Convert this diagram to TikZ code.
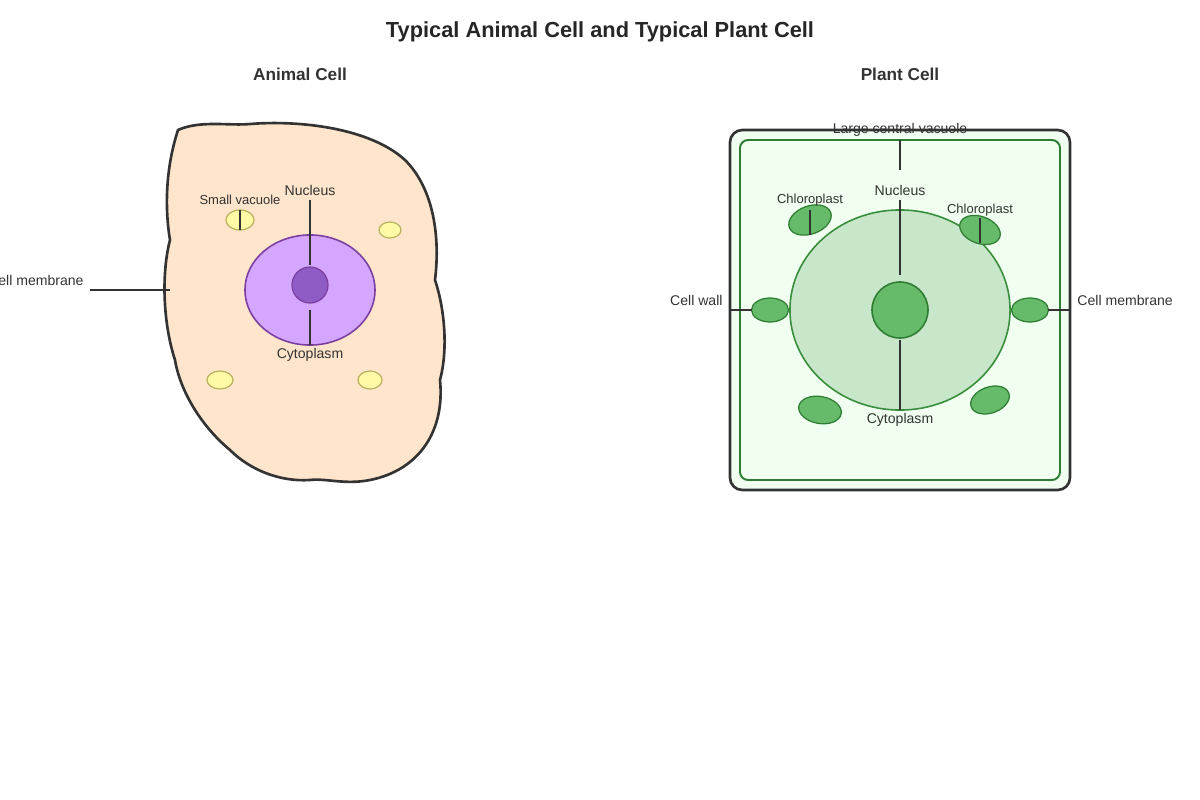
\documentclass[tikz,border=0pt]{standalone}
\usepackage{fontspec}
\usetikzlibrary{shapes.geometric}
\setmainfont{Liberation Sans}
\begin{document}
\begin{tikzpicture}[x=0.01cm,y=-0.01cm,
  lbl/.style={font=\fontsize{4pt}{5pt}\selectfont,text=black!80,inner sep=0.5pt},
  slbl/.style={font=\fontsize{3.7pt}{4.5pt}\selectfont,text=black!80,inner sep=0.5pt},
  ttl/.style={font=\bfseries\fontsize{4.9pt}{6pt}\selectfont,text=black!80},
  lead/.style={draw=black!80,line width=0.35pt},
  vac/.style={fill=yellow!35,draw=yellow!60!black!80,line width=0.35pt,inner sep=0pt,outer sep=0pt},
  chl/.style={fill=chlf,draw=chld,line width=0.35pt,inner sep=0pt,outer sep=0pt}]
\definecolor{chlf}{HTML}{66BB6A}\definecolor{chld}{HTML}{2E7D32}
\definecolor{cyto}{HTML}{FFE5CC}\definecolor{nuc}{HTML}{D5A6FF}\definecolor{nucd}{HTML}{7B3FA0}
\definecolor{nol}{HTML}{8E5CC4}\definecolor{vacl}{HTML}{C8E6C9}\definecolor{vacd}{HTML}{388E3C}
\definecolor{wall}{HTML}{F0FFF0}
\useasboundingbox (0,0) rectangle (1200,800);
\node[font=\bfseries\fontsize{6.2pt}{7pt}\selectfont,text=black!85] (title) at (600,32) {Typical Animal Cell and Typical Plant Cell};
\node[ttl] (at) at (300,74) {Animal Cell};
\node[ttl] (pt) at (900,74) {Plant Cell};
% animal
\draw[fill=cyto,draw=black!80,line width=0.75pt] (178,130) .. controls (200,120) and (230,126) .. (250,124)
 .. controls (300,120) and (370,128) .. (405,160) .. controls (435,190) and (440,240) .. (435,280)
 .. controls (445,310) and (448,350) .. (440,380) .. controls (445,430) and (420,470) .. (370,480)
 .. controls (345,485) and (325,478) .. (310,480) .. controls (280,482) and (250,470) .. (230,450)
 .. controls (200,425) and (180,390) .. (175,360) .. controls (162,320) and (162,270) .. (170,240)
 .. controls (165,210) and (165,170) .. (178,130) -- cycle;
\node[draw=nucd,fill=nuc,ellipse,inner sep=0pt,minimum width=1.3cm,minimum height=1.1cm,line width=0.45pt] (an) at (310,290) {};
\node[draw=nucd,fill=nol,circle,inner sep=0pt,minimum size=0.36cm,line width=0.35pt] (anl) at (310,285) {};
\node[vac,ellipse,minimum width=0.28cm,minimum height=0.2cm] (v1) at (240,220) {};
\node[vac,ellipse,minimum width=0.22cm,minimum height=0.16cm] (v2) at (390,230) {};
\node[vac,ellipse,minimum width=0.26cm,minimum height=0.18cm] (v3) at (220,380) {};
\node[vac,ellipse,minimum width=0.24cm,minimum height=0.18cm] (v4) at (370,380) {};
\node[lbl] (anlab) at (310,190) {Nucleus};
\node[lbl] (aclab) at (310,355) {Cytoplasm};
\node[slbl] (svlab) at (240,200) {Small vacuole};
\node[lbl,anchor=east] (cmlab) at (86,280) {Cell membrane};
\coordinate (a1) at (310,200); \coordinate (a2) at (310,265);
\coordinate (a3) at (310,310); \coordinate (a4) at (310,345);
\coordinate (a5) at (240,210); \coordinate (a6) at (240,230);
\coordinate (a7) at (90,290); \coordinate (a8) at (170,290);
\draw[lead] (a1)--(a2); \draw[lead] (a3)--(a4); \draw[lead] (a5)--(a6); \draw[lead] (a7)--(a8);
% plant
\draw[fill=wall,draw=black!80,line width=0.75pt,rounded corners=3.5pt] (730,130) rectangle (1070,490);
\draw[draw=chld,line width=0.55pt,rounded corners=2.3pt] (740,140) rectangle (1060,480);
\node[draw=vacd,fill=vacl,ellipse,inner sep=0pt,minimum width=2.2cm,minimum height=2cm,line width=0.45pt] (pv) at (900,310) {};
\node[draw=chld,fill=chlf,circle,inner sep=0pt,minimum size=0.56cm,line width=0.45pt] (pn) at (900,310) {};
\node[chl,ellipse,minimum width=0.44cm,minimum height=0.28cm,rotate=20] (c1) at (810,220) {};
\node[chl,ellipse,minimum width=0.42cm,minimum height=0.27cm,rotate=-20] (c2) at (980,230) {};
\node[chl,ellipse,minimum width=0.37cm,minimum height=0.24cm] (c3) at (770,310) {};
\node[chl,ellipse,minimum width=0.37cm,minimum height=0.24cm] (c4) at (1030,310) {};
\node[chl,ellipse,minimum width=0.43cm,minimum height=0.27cm,rotate=-10] (c5) at (820,410) {};
\node[chl,ellipse,minimum width=0.4cm,minimum height=0.26cm,rotate=20] (c6) at (990,400) {};
\node[lbl] (lcv) at (900,130) {Large central vacuole};
\node[lbl] (pnl) at (900,190) {Nucleus};
\node[lbl] (pcl) at (900,420) {Cytoplasm};
\node[slbl] (ch1) at (810,200) {Chloroplast};
\node[slbl] (ch2) at (980,210) {Chloroplast};
\node[lbl,anchor=east] (cw) at (725,300) {Cell wall};
\node[lbl,anchor=west] (pcm) at (1075,300) {Cell membrane};
\coordinate (p1) at (900,140); \coordinate (p2) at (900,170);
\coordinate (p3) at (900,200); \coordinate (p4) at (900,275);
\coordinate (p5) at (900,340); \coordinate (p6) at (900,410);
\coordinate (p7) at (810,210); \coordinate (p8) at (810,235);
\coordinate (p9) at (980,218); \coordinate (p10) at (980,243);
\coordinate (p11) at (730,310); \coordinate (p12) at (752,310);
\coordinate (p13) at (1048,310); \coordinate (p14) at (1070,310);
\foreach \u/\v in {p1/p2,p3/p4,p5/p6,p7/p8,p9/p10,p11/p12,p13/p14} \draw[lead] (\u)--(\v);
\end{tikzpicture}
\end{document}
